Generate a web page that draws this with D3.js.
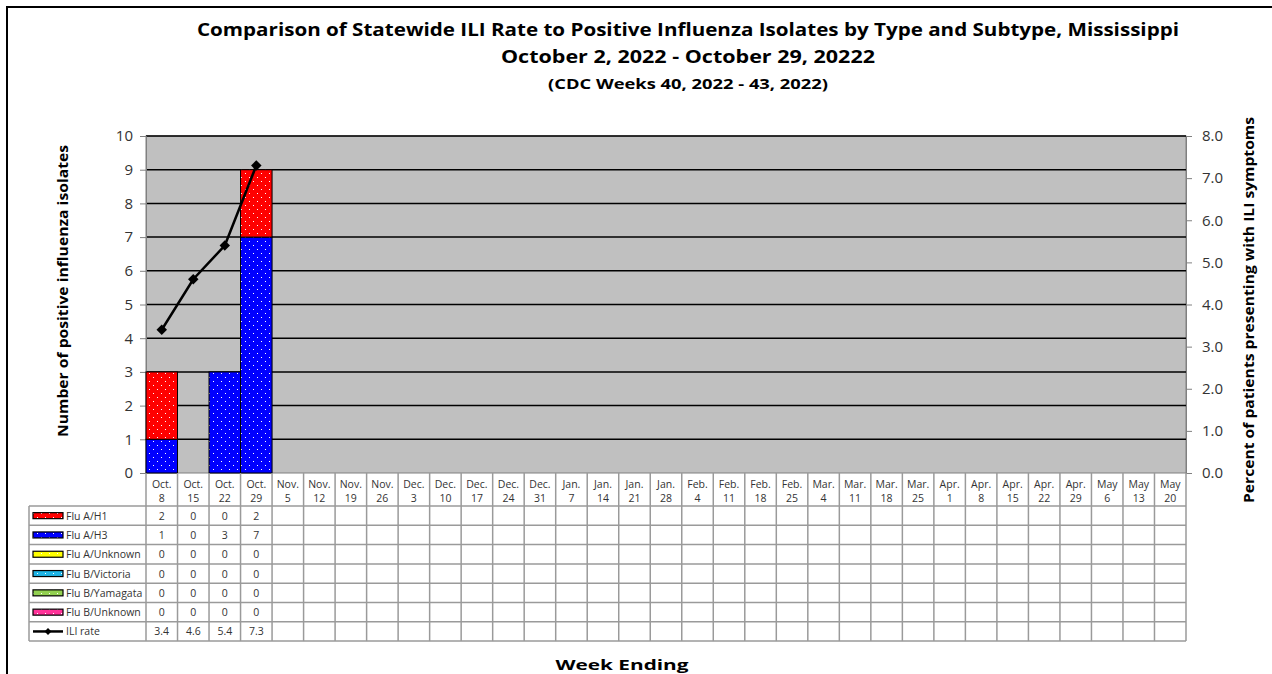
<!DOCTYPE html>
<html>
<head>
<meta charset="utf-8">
<script src="https://cdn.jsdelivr.net/npm/d3@7"></script>
<style>
  body { margin: 0; background: #fff; }
  svg text { font-family: "Open Sans", "Noto Sans", sans-serif; }
</style>
</head>
<body>
<script>
// Week ending labels (two lines each)
const weekMonths = ["Oct.","Oct.","Oct.","Oct.","Nov.","Nov.","Nov.","Nov.","Dec.","Dec.","Dec.","Dec.","Dec.",
  "Jan.","Jan.","Jan.","Jan.","Feb.","Feb.","Feb.","Feb.","Mar.","Mar.","Mar.","Mar.",
  "Apr.","Apr.","Apr.","Apr.","Apr.","May","May","May"];
const weekDays = ["8","15","22","29","5","12","19","26","3","10","17","24","31",
  "7","14","21","28","4","11","18","25","4","11","18","25",
  "1","8","15","22","29","6","13","20"];

// Series (only the first four weeks reported)
const fluAH1 = [2, 0, 0, 2];
const fluAH3 = [1, 0, 3, 7];
const fluAUnknown = [0, 0, 0, 0];
const fluBVictoria = [0, 0, 0, 0];
const fluBYamagata = [0, 0, 0, 0];
const fluBUnknown = [0, 0, 0, 0];
const iliRate = [3.4, 4.6, 5.4, 7.3];

const seriesNames = ["Flu A/H1","Flu A/H3","Flu A/Unknown","Flu B/Victoria","Flu B/Yamagata","Flu B/Unknown"];
const seriesValues = [fluAH1, fluAH3, fluAUnknown, fluBVictoria, fluBYamagata, fluBUnknown];
const seriesColors = ["#ff0000","#0000ff","#ffff00","#1eb4e6","#92d050","#ff3399"];
// stacking order bottom -> top
const stackOrder = [1, 0, 2, 3, 4, 5];

const W = 1272, H = 674;
const plot = { left: 146, right: 1186, top: 136, bottom: 473 };
const FONT = "'Open Sans', 'Noto Sans', sans-serif";

const svg = d3.select("body").append("svg")
  .attr("width", W).attr("height", H)
  .style("font-family", FONT);

// patterns (white dots)
const defs = svg.append("defs");
seriesColors.forEach((c, i) => {
  const p = defs.append("pattern")
    .attr("id", "pat" + i)
    .attr("patternUnits", "userSpaceOnUse")
    .attr("width", 8).attr("height", 8);
  p.append("rect").attr("width", 8).attr("height", 8).attr("fill", c);
  p.append("rect").attr("x", 1).attr("y", 1).attr("width", 1).attr("height", 1).attr("fill", "#fff");
  p.append("rect").attr("x", 5).attr("y", 5).attr("width", 1).attr("height", 1).attr("fill", "#fff");
});

// outer frame
svg.append("rect")
  .attr("x", 7).attr("y", 7).attr("width", W).attr("height", H)
  .attr("fill", "none").attr("stroke", "#000").attr("stroke-width", 2);

// scales
const x = d3.scaleBand()
  .domain(d3.range(weekDays.length))
  .range([plot.left, plot.right])
  .padding(0);
const y = d3.scaleLinear().domain([0, 10]).range([plot.bottom, plot.top]);
const y2 = d3.scaleLinear().domain([0, 8]).range([plot.bottom, plot.top]);

// plot background
svg.append("rect")
  .attr("x", plot.left).attr("y", plot.top)
  .attr("width", plot.right - plot.left).attr("height", plot.bottom - plot.top)
  .attr("fill", "#c0c0c0").attr("stroke", "#808080").attr("stroke-width", 1);

// gridlines
svg.append("g")
  .selectAll("line")
  .data(d3.range(1, 11))
  .join("line")
  .attr("x1", plot.left).attr("x2", plot.right)
  .attr("y1", d => y(d)).attr("y2", d => y(d))
  .attr("stroke", "#000").attr("stroke-width", 1.5);

// left axis
const yAxis = svg.append("g")
  .attr("transform", `translate(${plot.left},0)`)
  .call(d3.axisLeft(y).ticks(10).tickSize(6).tickPadding(7));
yAxis.attr("font-family", FONT);
yAxis.select(".domain").attr("stroke", "#808080");
yAxis.selectAll(".tick line").attr("stroke", "#808080");
yAxis.selectAll("text").attr("font-size", 15).attr("fill", "#333");

// right axis
const y2Axis = svg.append("g")
  .attr("transform", `translate(${plot.right},0)`)
  .call(d3.axisRight(y2).ticks(8).tickFormat(d3.format(".1f")).tickSize(6).tickPadding(10));
y2Axis.attr("font-family", FONT);
y2Axis.select(".domain").attr("stroke", "#808080");
y2Axis.selectAll(".tick line").attr("stroke", "#808080");
y2Axis.selectAll("text").attr("font-size", 15).attr("fill", "#333");

// stacked bars
const nData = fluAH1.length;
const barG = svg.append("g");
for (let w = 0; w < nData; w++) {
  let base = 0;
  stackOrder.forEach(si => {
    const v = seriesValues[si][w];
    if (v > 0) {
      barG.append("rect")
        .attr("x", x(w)).attr("width", x.bandwidth())
        .attr("y", y(base + v)).attr("height", y(base) - y(base + v))
        .attr("fill", `url(#pat${si})`)
        .attr("stroke", "#000").attr("stroke-width", 1);
    }
    base += v;
  });
}

// ILI line
const line = d3.line()
  .x((d, i) => x(i) + x.bandwidth() / 2)
  .y(d => y2(d));
svg.append("path")
  .datum(iliRate)
  .attr("d", line)
  .attr("fill", "none").attr("stroke", "#000").attr("stroke-width", 2.5);
const diamond = d3.symbol().type(d3.symbolDiamond2).size(70);
svg.append("g").selectAll("path")
  .data(iliRate)
  .join("path")
  .attr("d", diamond)
  .attr("transform", (d, i) => `translate(${x(i) + x.bandwidth() / 2},${y2(d)})`)
  .attr("fill", "#000");

// data table
const tbl = svg.append("g");
const headBottom = 506;
const rowH = 19.3;
const nRows = 7;
const tblLeft = 29;
const tblBottom = headBottom + rowH * nRows;
const gridColor = "#9a9a9a";

// header labels
const head = tbl.append("g").selectAll("g")
  .data(weekDays)
  .join("g");
head.append("text")
  .attr("x", (d, i) => x(i) + x.bandwidth() / 2)
  .attr("y", 488)
  .attr("text-anchor", "middle").attr("font-size", 10.5).attr("fill", "#333")
  .text((d, i) => weekMonths[i]);
head.append("text")
  .attr("x", (d, i) => x(i) + x.bandwidth() / 2)
  .attr("y", 502)
  .attr("text-anchor", "middle").attr("font-size", 10.5).attr("fill", "#333")
  .text(d => d);

// vertical lines
tbl.append("g").selectAll("line")
  .data(d3.range(weekDays.length + 1))
  .join("line")
  .attr("x1", i => i < weekDays.length ? x(i) : plot.right)
  .attr("x2", i => i < weekDays.length ? x(i) : plot.right)
  .attr("y1", plot.bottom).attr("y2", tblBottom)
  .attr("stroke", gridColor).attr("stroke-width", 1.5);
tbl.append("line")
  .attr("x1", tblLeft).attr("x2", tblLeft)
  .attr("y1", headBottom).attr("y2", tblBottom)
  .attr("stroke", gridColor).attr("stroke-width", 1.5);
// horizontal lines
tbl.append("g").selectAll("line")
  .data(d3.range(nRows + 1))
  .join("line")
  .attr("x1", tblLeft).attr("x2", plot.right)
  .attr("y1", r => headBottom + r * rowH).attr("y2", r => headBottom + r * rowH)
  .attr("stroke", gridColor).attr("stroke-width", 1.5);

// rows
const rows = seriesNames.map((n, i) => ({ name: n, values: seriesValues[i], idx: i }));
rows.push({ name: "ILI rate", values: iliRate.map(d => d.toFixed(1)), idx: -1 });

rows.forEach((r, ri) => {
  const cy = headBottom + ri * rowH + rowH / 2;
  if (r.idx >= 0) {
    tbl.append("rect")
      .attr("x", 33).attr("y", cy - 3).attr("width", 30).attr("height", 6)
      .attr("fill", `url(#pat${r.idx})`).attr("stroke", "#000").attr("stroke-width", 1.2);
  } else {
    tbl.append("line")
      .attr("x1", 33).attr("x2", 63).attr("y1", cy).attr("y2", cy)
      .attr("stroke", "#000").attr("stroke-width", 2.5);
    tbl.append("path").attr("d", d3.symbol().type(d3.symbolDiamond2).size(30))
      .attr("transform", `translate(48,${cy})`).attr("fill", "#000");
  }
  tbl.append("text")
    .attr("x", 66).attr("y", cy + 4)
    .attr("font-size", 10.5).attr("fill", "#333")
    .text(r.name);
  tbl.append("g").selectAll("text")
    .data(r.values)
    .join("text")
    .attr("x", (d, i) => x(i) + x.bandwidth() / 2)
    .attr("y", cy + 4)
    .attr("text-anchor", "middle").attr("font-size", 10.5).attr("fill", "#333")
    .text(d => d);
});

// titles
const titleX = 688;
svg.append("text")
  .attr("x", titleX).attr("y", 36).attr("text-anchor", "middle")
  .attr("font-size", 18).attr("font-weight", "bold")
  .attr("textLength", 982).attr("lengthAdjust", "spacingAndGlyphs")
  .text("Comparison of Statewide ILI Rate to Positive Influenza Isolates by Type and Subtype, Mississippi");
svg.append("text")
  .attr("x", titleX).attr("y", 63).attr("text-anchor", "middle")
  .attr("font-size", 18).attr("font-weight", "bold")
  .attr("textLength", 374).attr("lengthAdjust", "spacingAndGlyphs")
  .text("October 2, 2022 - October 29, 20222");
svg.append("text")
  .attr("x", titleX).attr("y", 89).attr("text-anchor", "middle")
  .attr("font-size", 15).attr("font-weight", "bold")
  .attr("textLength", 280).attr("lengthAdjust", "spacingAndGlyphs")
  .text("(CDC Weeks 40, 2022 - 43, 2022)");

// axis titles
svg.append("text")
  .attr("transform", "translate(68,291) rotate(-90)")
  .attr("text-anchor", "middle").attr("font-size", 14).attr("font-weight", "bold")
  .attr("textLength", 292).attr("lengthAdjust", "spacingAndGlyphs")
  .text("Number of positive influenza isolates");
svg.append("text")
  .attr("transform", "translate(1254,310) rotate(-90)")
  .attr("text-anchor", "middle").attr("font-size", 14).attr("font-weight", "bold")
  .attr("textLength", 386).attr("lengthAdjust", "spacingAndGlyphs")
  .text("Percent of patients presenting with ILI symptoms");
svg.append("text")
  .attr("x", 622).attr("y", 670)
  .attr("text-anchor", "middle").attr("font-size", 14).attr("font-weight", "bold")
  .attr("textLength", 133).attr("lengthAdjust", "spacingAndGlyphs")
  .text("Week Ending");
</script>
</body>
</html>
